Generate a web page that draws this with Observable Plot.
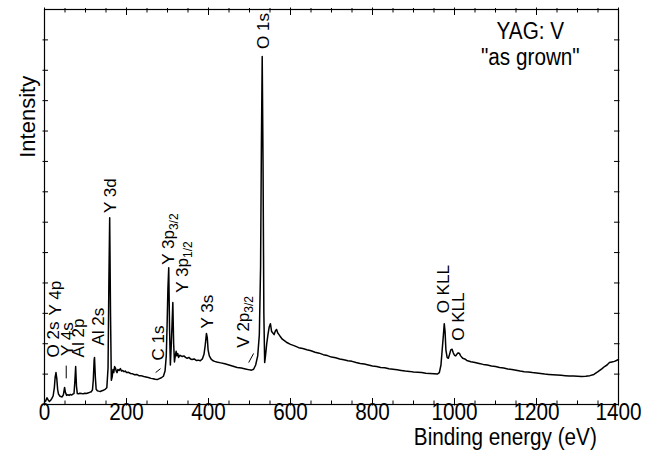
<!DOCTYPE html>
<html><head><meta charset="utf-8">
<script src="https://cdn.jsdelivr.net/npm/d3@7"></script>
<script src="https://cdn.jsdelivr.net/npm/@observablehq/plot@0.6"></script>
<style>body{margin:0;background:#fff}#chart{width:664px;height:461px}</style>
</head><body><div id="chart"></div>
<script>
// Binding energy (eV) and intensity (arbitrary units, 13 = top of frame)
const energy = [0,3,6,9,12,15,18,21,24,26,28,30,32,34,37,40,43,46,49,51,54,57,60,63,66,69,72,74,76,78,80,83,86,90,94,98,102,106,110,114,117,119,121,122,124,126,129,132,136,140,144,148,152,155,157,159,161,163,165,167,169,171,173,175,177,179,182,185,188,191,194,197,200,205,210,215,220,225,230,235,240,245,250,255,260,265,270,275,280,285,290,294,297,299,301,303,305,307,309,311,313,315,317,319,321,323,325,327,330,333,336,340,344,348,352,356,360,365,370,375,380,385,389,392,395,397,399,402,406,410,415,420,430,440,450,460,470,480,490,500,505,510,515,520,524,527,529,531,533,535,537,539,542,545,548,551,554,557,560,563,566,569,572,576,580,585,590,600,610,620,630,640,650,660,670,680,690,700,710,720,730,740,750,760,770,780,790,800,810,820,830,840,850,860,870,880,890,900,910,920,930,940,950,958,963,967,970,973,975,977,979,982,985,988,991,994,997,1000,1003,1006,1009,1012,1015,1020,1025,1030,1040,1050,1060,1070,1080,1090,1100,1110,1120,1130,1140,1150,1160,1170,1180,1190,1200,1210,1220,1230,1240,1250,1260,1270,1280,1290,1300,1310,1320,1330,1340,1350,1360,1366,1372,1378,1384,1390,1395,1400];
const intensity = [0.08,0.12,0.22,0.15,0.10,0.14,0.20,0.28,0.55,0.90,1.05,0.85,0.50,0.35,0.28,0.26,0.25,0.32,0.56,0.40,0.30,0.32,0.30,0.33,0.31,0.34,0.36,0.75,1.25,0.60,0.36,0.35,0.37,0.36,0.35,0.37,0.36,0.38,0.40,0.42,0.48,0.80,1.45,1.55,0.90,0.50,0.45,0.44,0.43,0.45,0.47,0.50,0.55,1.20,4.00,6.15,3.00,0.80,0.90,1.15,1.05,1.25,1.20,1.10,1.05,1.15,1.12,1.18,1.10,1.12,1.08,1.10,1.05,1.06,1.02,1.01,0.98,0.99,0.95,0.95,0.93,0.91,0.90,0.88,0.86,0.85,0.83,0.82,0.85,0.88,0.93,1.10,1.60,2.60,3.80,4.50,2.50,1.30,1.90,2.60,3.36,2.00,1.40,1.60,1.75,1.60,1.68,1.55,1.62,1.60,1.58,1.60,1.55,1.52,1.55,1.50,1.48,1.50,1.45,1.46,1.44,1.50,1.65,1.95,2.34,2.20,1.80,1.60,1.50,1.45,1.42,1.40,1.37,1.34,1.30,1.26,1.22,1.20,1.17,1.14,1.13,1.16,1.30,1.60,2.30,4.50,8.50,11.45,8.00,3.00,1.38,1.60,2.00,2.30,2.55,2.66,2.40,2.35,2.30,2.42,2.47,2.35,2.30,2.22,2.15,2.10,2.05,1.98,1.93,1.87,1.84,1.80,1.77,1.72,1.69,1.64,1.61,1.56,1.54,1.50,1.47,1.44,1.42,1.38,1.35,1.33,1.30,1.27,1.25,1.22,1.21,1.18,1.16,1.14,1.12,1.10,1.09,1.07,1.06,1.05,1.03,1.02,1.01,1.00,1.05,1.30,1.80,2.30,2.66,2.40,1.80,1.55,1.52,1.65,1.80,1.82,1.70,1.62,1.60,1.66,1.70,1.68,1.60,1.52,1.50,1.45,1.41,1.38,1.35,1.32,1.30,1.27,1.25,1.22,1.20,1.17,1.15,1.13,1.10,1.08,1.07,1.05,1.04,1.02,1.00,0.99,0.98,0.97,0.96,0.95,0.94,0.94,0.93,0.92,0.93,0.95,0.99,1.08,1.18,1.25,1.30,1.38,1.40,1.42,1.45,1.48];

// Peak annotations: label, energy (eV), level where the rotated label starts
const peakNames  = ["O 2s","Y 4p","Y 4s","Al 2p","Al 2s","Y 3d","C 1s","Y 3p_3/2","Y 3p_1/2","Y 3s","V 2p_3/2","O 1s","O KLL","O KLL"];
const peakEnergy = [22,27,56,83,132,161,278,302,337,398,485,534,973,1010];
const peakLevel  = [1.55,2.93,1.6,1.55,1.94,6.3,1.45,4.6,3.68,2.5,1.87,11.7,3.0,2.1];

// Small leader marks under some labels
const leaderX1 = [53,271,498];
const leaderY1 = [0.86,1.05,1.38];
const leaderX2 = [53,283,510];
const leaderY2 = [1.28,1.18,1.68];

const majorTicks = [0,200,400,600,800,1000,1200,1400];
const minorTicks = [50,100,150,250,300,350,450,500,550,650,700,750,850,900,950,1050,1100,1150,1250,1300,1350];
const levelTicks = [1,2,3,4,5,6,7,8,9,10,11,12];

const titleLines = ["YAG: V", "\"as grown\""];
const titleX = [1185, 1185];
const titleY = [12.27, 11.4];
const xTitle = "Binding energy (eV)";
const yTitle = "Intensity";

const W = 664, H = 461, mL = 44, mR = 46, mT = 9, mB = 57;
const xMax = 1400, yMax = 13;
const px = (1400) / (W - mL - mR);  // eV per pixel
const py = yMax / (H - mT - mB);    // units per pixel

const spectrum = energy.map((e, i) => ({e, v: intensity[i]}));
const peaks = peakNames.map((n, i) => ({n, e: peakEnergy[i], v: peakLevel[i]}));
const leaders = leaderX1.map((x, i) => ({x1: x, y1: leaderY1[i], x2: leaderX2[i], y2: leaderY2[i]}));
const titles = titleLines.map((t, i) => ({t, x: titleX[i], y: titleY[i]}));

const font = "'Liberation Sans', Arial, Helvetica, sans-serif";

const chart = Plot.plot({
  width: W, height: H,
  marginLeft: mL, marginRight: mR, marginTop: mT, marginBottom: mB,
  x: {domain: [0, xMax], axis: null},
  y: {domain: [0, yMax], axis: null},
  style: {fontFamily: font, background: "white", color: "black"},
  marks: [
    Plot.frame({stroke: "black", strokeWidth: 1.2}),
    // bottom ticks
    Plot.ruleX(majorTicks, {x: d => d, y1: -1.5 * py, y2: 6 * py, stroke: "black", strokeWidth: 1}),
    Plot.ruleX(minorTicks, {x: d => d, y1: -1 * py, y2: 3.5 * py, stroke: "black", strokeWidth: 1}),
    // top ticks
    Plot.ruleX(majorTicks, {x: d => d, y1: yMax + 1.5 * py, y2: yMax - 6 * py, stroke: "black", strokeWidth: 1}),
    Plot.ruleX(minorTicks, {x: d => d, y1: yMax + 1 * py, y2: yMax - 3.5 * py, stroke: "black", strokeWidth: 1}),
    // left & right ticks
    Plot.ruleY(levelTicks, {y: d => d, x1: -1.5 * px, x2: 4 * px, stroke: "black", strokeWidth: 1}),
    Plot.ruleY(levelTicks, {y: d => d, x1: xMax + 1.5 * px, x2: xMax - 4 * px, stroke: "black", strokeWidth: 1}),
    // tick labels
    Plot.text(majorTicks, {x: d => d, frameAnchor: "bottom", dy: 15, text: d => String(d), fontSize: 23, fill: "black"}),
    // axis titles
    Plot.text([xTitle], {x: 1124, frameAnchor: "bottom", dy: 40, text: d => d, fontSize: 23, fill: "black"}),
    Plot.text([yTitle], {y: 8.12, frameAnchor: "left", dx: -17, rotate: -90, text: d => d, fontSize: 22, fill: "black"}),
    // spectrum
    Plot.line(spectrum, {x: "e", y: "v", stroke: "black", strokeWidth: 1.5, curve: "linear"}),
    // leaders
    Plot.link(leaders, {x1: "x1", y1: "y1", x2: "x2", y2: "y2", stroke: "black", strokeWidth: 1}),
    // peak labels
    Plot.text(peaks, {x: "e", y: "v", text: "n", rotate: -90, textAnchor: "start", fontSize: 17, fill: "black"}),
    // title
    Plot.text(titles, {x: "x", y: "y", text: "t", fontSize: 23, fill: "black"})
  ]
});

document.getElementById("chart").appendChild(chart);

// Subscripts and condensed horizontal lettering
const ns = "http://www.w3.org/2000/svg";
chart.querySelectorAll("text").forEach(t => {
  const s = t.textContent;
  const tr = t.getAttribute("transform") || "";
  const i = s.indexOf("_");
  if (i >= 0) {
    t.textContent = "";
    const a = document.createElementNS(ns, "tspan");
    a.textContent = s.slice(0, i);
    const b = document.createElementNS(ns, "tspan");
    b.textContent = s.slice(i + 1);
    b.setAttribute("font-size", "12");
    b.setAttribute("dy", "4");
    t.appendChild(a); t.appendChild(b);
  } else if (!tr.includes("rotate") && s.length) {
    const L = t.getComputedTextLength();
    t.setAttribute("textLength", (L * 0.9).toFixed(1));
    t.setAttribute("lengthAdjust", "spacingAndGlyphs");
  }
});
</script>
</body></html>
